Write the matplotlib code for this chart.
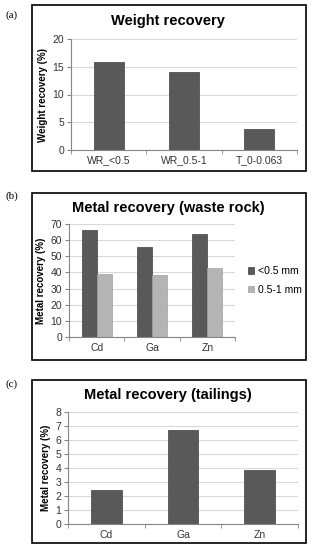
import numpy as np
import matplotlib.pyplot as plt
from matplotlib.patches import Rectangle

# data
wr_labels = ['WR_<0.5', 'WR_0.5-1', 'T_0-0.063']
wr_values = [15.9, 14.0, 3.7]

metals = ['Cd', 'Ga', 'Zn']
rock_fine = [66, 56, 64]
rock_coarse = [39, 38.5, 42.5]
rock_series = ['<0.5 mm', '0.5-1 mm']

tail_values = [2.45, 6.7, 3.85]

W, H = 312, 550
dark = '#595959'
light = '#b4b4b4'
grid_c = '#d9d9d9'
axis_c = '#868686'
text_c = '#333333'

plt.rcParams['font.family'] = ['Liberation Sans', 'DejaVu Sans']
fig = plt.figure(figsize=(W / 100, H / 100), dpi=100)


def px_axes(left, top, right, bottom):
    return fig.add_axes([left / W, 1 - bottom / H, (right - left) / W, (bottom - top) / H])


def frame(left, top, right, bottom):
    fig.patches.append(Rectangle((left / W, 1 - bottom / H), (right - left) / W, (bottom - top) / H,
                                 transform=fig.transFigure, fill=False, edgecolor='black', lw=1.2))


def style(ax, ymax, step, ylabel, labels):
    ax.set_ylim(0, ymax)
    ax.set_yticks(np.arange(0, ymax + 0.01, step))
    ax.set_xlim(-0.5, len(labels) - 0.5)
    ax.set_xticks(range(len(labels)))
    ax.set_xticklabels(labels)
    ax.set_xticks(np.arange(-0.5, len(labels)), minor=True)
    ax.tick_params(axis='x', which='major', length=0, labelsize=7.5, pad=4, labelcolor=text_c)
    ax.tick_params(axis='x', which='minor', length=3, color=axis_c)
    ax.tick_params(axis='y', length=3, color=axis_c, labelsize=7.5, pad=2, labelcolor=text_c)
    ax.yaxis.grid(True, color=grid_c, lw=0.8)
    ax.set_axisbelow(True)
    for s in ['top', 'right']:
        ax.spines[s].set_visible(False)
    for s in ['left', 'bottom']:
        ax.spines[s].set_color(axis_c)
        ax.spines[s].set_linewidth(0.8)
    ax.set_ylabel(ylabel, fontsize=7, fontweight='bold', labelpad=3)


# (a) weight recovery
frame(32, 5, 306, 171)
ax1 = px_axes(71, 39, 297, 150)
x = np.arange(len(wr_labels))
ax1.bar(x, wr_values, width=0.4, color=dark, edgecolor='#404040', lw=0.5)
style(ax1, 20, 5, 'Weight recovery (%)', wr_labels)
fig.text(168 / W, 1 - 21 / H, 'Weight recovery', ha='center', va='center', fontsize=10.5, fontweight='bold')
fig.text(12 / W, 1 - 15 / H, '(a)', ha='center', va='center', fontsize=8, family='Liberation Serif')

# (b) metal recovery waste rock
frame(32, 193, 306, 360)
ax2 = px_axes(69, 224, 235, 337)
x = np.arange(len(metals))
bw = 0.27
ax2.bar(x - bw / 2, rock_fine, width=bw, color=dark, edgecolor='#404040', lw=0.5, label=rock_series[0])
ax2.bar(x + bw / 2, rock_coarse, width=bw, color=light, edgecolor='#a0a0a0', lw=0.5, label=rock_series[1])
style(ax2, 70, 10, 'Metal recovery (%)', metals)
ax2.legend(loc='center left', bbox_to_anchor=(1.02, 0.5), frameon=False, fontsize=7.5,
           handlelength=0.6, handleheight=0.6, handletextpad=0.4, labelspacing=0.8)
fig.text(168 / W, 1 - 208 / H, 'Metal recovery (waste rock)', ha='center', va='center', fontsize=10.5, fontweight='bold')
fig.text(12 / W, 1 - 196 / H, '(b)', ha='center', va='center', fontsize=8, family='Liberation Serif')

# (c) metal recovery tailings
frame(32, 380, 306, 543)
ax3 = px_axes(68, 412, 298, 524)
ax3.bar(x, tail_values, width=0.4, color=dark, edgecolor='#404040', lw=0.5)
style(ax3, 8, 1, 'Metal recovery (%)', metals)
fig.text(168 / W, 1 - 395 / H, 'Metal recovery (tailings)', ha='center', va='center', fontsize=10.5, fontweight='bold')
fig.text(12 / W, 1 - 384 / H, '(c)', ha='center', va='center', fontsize=8, family='Liberation Serif')

fig.savefig('out.png', dpi=100)
